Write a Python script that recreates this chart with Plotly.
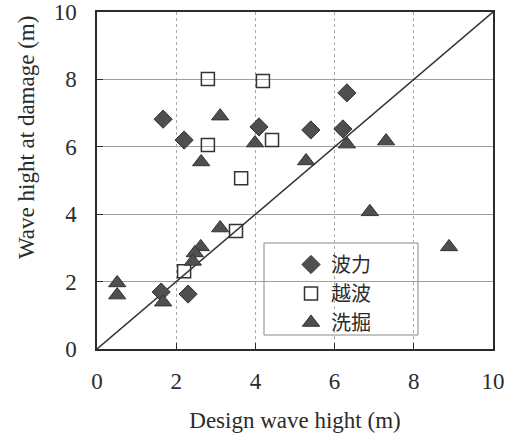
import plotly.graph_objects as go

# 波力 (wave force) - diamonds
force_x = [1.67, 2.20, 4.09, 5.40, 6.21, 6.31, 1.62, 2.30]
force_y = [6.82, 6.20, 6.59, 6.50, 6.53, 7.60, 1.69, 1.63]

# 越波 (overtopping) - open squares
over_x = [2.80, 4.19, 2.80, 4.42, 3.64, 3.51, 2.20]
over_y = [8.01, 7.95, 6.05, 6.20, 5.07, 3.50, 2.31]

# 洗掘 (scour) - triangles
scour_x = [3.11, 3.99, 2.63, 5.28, 6.31, 7.30, 6.89, 8.89, 3.11, 2.62, 2.47, 2.42, 0.51, 0.51, 1.67]
scour_y = [6.91, 6.11, 5.55, 5.58, 6.08, 6.17, 4.07, 3.03, 3.59, 3.03, 2.85, 2.60, 1.96, 1.60, 1.39]

diag = [0, 10]
ticks = [0, 2, 4, 6, 8, 10]

SERIF = "Liberation Serif, Times New Roman, serif"
CJK = "Noto Sans CJK JP"
INK = "#2b2b2b"
MARK = "#4f4f4f"

fig = go.Figure()
fig.add_trace(go.Scatter(x=diag, y=diag, mode="lines",
                         line=dict(color="#333333", width=1.5),
                         showlegend=False, hoverinfo="skip"))
fig.add_trace(go.Scatter(x=force_x, y=force_y, mode="markers", name="波力",
                         marker=dict(symbol="diamond", size=14, color=MARK,
                                     line=dict(color="#333333", width=1))))
fig.add_trace(go.Scatter(x=over_x, y=over_y, mode="markers", name="越波",
                         marker=dict(symbol="square-open", size=13, color="#333333",
                                     line=dict(width=1.5))))
fig.add_trace(go.Scatter(x=scour_x, y=scour_y, mode="markers", name="洗掘",
                         marker=dict(symbol="triangle-up", size=15, color=MARK,
                                     line=dict(color="#333333", width=1))))

# legend frame
fig.add_shape(type="rect", xref="paper", yref="paper",
              x0=(264 - 97) / 396, x1=(418 - 97) / 396,
              y0=(349 - 335) / 337, y1=(349 - 243) / 337,
              line=dict(color="#888888", width=1), fillcolor="white", layer="below")

axis_common = dict(range=[0, 10], tickvals=ticks, ticks="inside", ticklen=6,
                   tickcolor=INK, showline=True, linecolor=INK, linewidth=1.5,
                   mirror=True, zeroline=False, automargin=False,
                   tickfont=dict(family=SERIF, size=23, color=INK))

fig.update_xaxes(**axis_common, showgrid=True, gridcolor="#a8a8a8",
                 griddash="3px,3px", gridwidth=1, ticklabelstandoff=11,
                 title=dict(text="Design wave hight (m)",
                            font=dict(family=SERIF, size=23, color=INK),
                            standoff=19))
fig.update_yaxes(**axis_common, showgrid=True, gridcolor="#a0a0a0",
                 gridwidth=1, ticklabelstandoff=14)

fig.add_annotation(text="Wave hight at damage (m)", xref="paper", yref="paper",
                   x=(26 - 97) / 396, y=(349 - 138) / 337, textangle=-90,
                   showarrow=False, xanchor="center", yanchor="middle",
                   font=dict(family=SERIF, size=23, color=INK))

fig.update_layout(
    width=516, height=437,
    margin=dict(l=97, r=23, t=12, b=88, autoexpand=False),
    paper_bgcolor="white", plot_bgcolor="white",
    legend=dict(x=(291 - 97) / 396, y=(349 - 245) / 337, xanchor="left", yanchor="top",
                bgcolor="rgba(0,0,0,0)", borderwidth=0,
                font=dict(family=CJK, size=20, color=INK), tracegroupgap=0),
)

fig.write_html("out.html")
